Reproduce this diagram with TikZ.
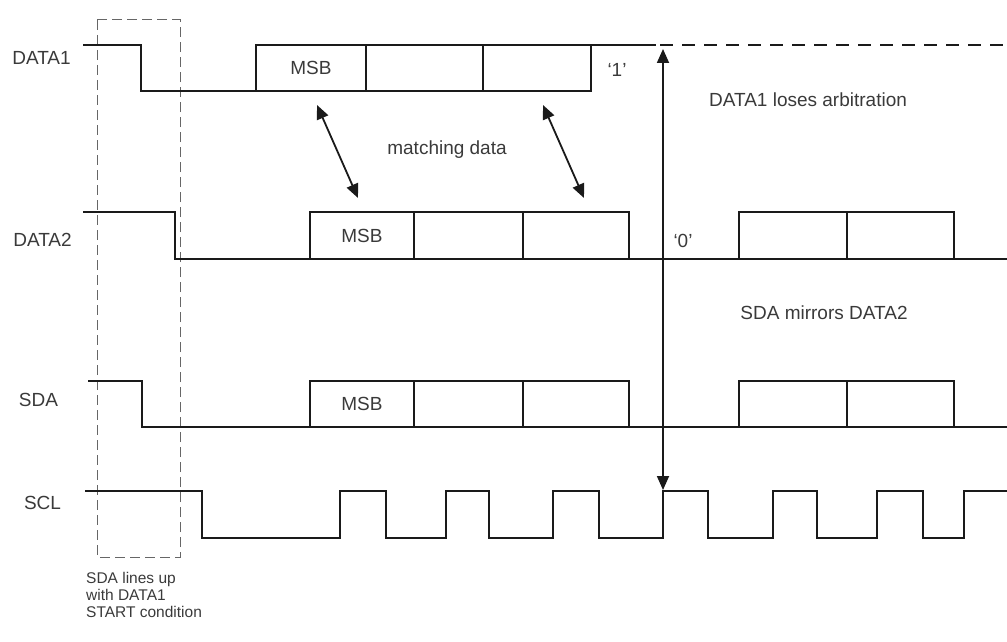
\documentclass[tikz,border=0pt]{standalone}
\usepackage{fontspec}
\setmainfont{Liberation Sans}
\usetikzlibrary{arrows.meta}
\definecolor{ink}{HTML}{1A1A1A}
\definecolor{txt}{HTML}{3A3A3A}
\begin{document}
\begin{tikzpicture}[x=1pt,y=-1pt,
  wave/.style={line width=2.4pt, draw=ink, line join=miter, line cap=rect},
  dotline/.style={line width=2.4pt, draw=ink, dash pattern=on 13pt off 9pt},
  startbox/.style={line width=1pt, draw=black!60, dash pattern=on 10pt off 5pt},
  dblarrow/.style={line width=1.8pt, draw=ink, {Triangle[length=14pt,width=12pt]}-{Triangle[length=14pt,width=12pt]}},
  lbl/.style={font=\fontsize{19}{22}\selectfont, text=txt, inner sep=0pt},
  note/.style={font=\fontsize{15.5}{17}\selectfont, text=txt, inner sep=0pt, align=left}]
\useasboundingbox (0,0) rectangle (1007,642);

% START condition dashed box
\draw[startbox] (97,20) rectangle (180,557);

% DATA1
\draw[wave] (84,45) -- (141,45) -- (141,91) -- (591,91) -- (591,45);
\draw[wave] (256,91) -- (256,45) -- (655,45);
\draw[wave] (366,45) -- (366,91);
\draw[wave] (483,45) -- (483,91);
\draw[dotline] (660,45) -- (1007,45);

% DATA2
\draw[wave] (84,212) -- (175,212) -- (175,259) -- (1007,259);
\draw[wave] (310,259) -- (310,212) -- (629,212) -- (629,259);
\draw[wave] (414,212) -- (414,259);
\draw[wave] (523,212) -- (523,259);
\draw[wave] (739,259) -- (739,212) -- (954,212) -- (954,259);
\draw[wave] (847,212) -- (847,259);

% SDA
\draw[wave] (89,381) -- (142,381) -- (142,427) -- (1007,427);
\draw[wave] (310,427) -- (310,381) -- (629,381) -- (629,427);
\draw[wave] (414,381) -- (414,427);
\draw[wave] (523,381) -- (523,427);
\draw[wave] (739,427) -- (739,381) -- (954,381) -- (954,427);
\draw[wave] (847,381) -- (847,427);

% SCL
\draw[wave] (86,491) -- (202,491) -- (202,538) -- (340,538) -- (340,491) -- (386,491) -- (386,538)
  -- (446,538) -- (446,491) -- (489,491) -- (489,538) -- (553,538) -- (553,491) -- (599,491)
  -- (599,538) -- (663,538) -- (663,491) -- (708,491) -- (708,538) -- (773,538) -- (773,491)
  -- (817,491) -- (817,538) -- (877,538) -- (877,491) -- (923,491) -- (923,538) -- (964,538)
  -- (964,491) -- (1007,491);

% signal labels
\node[lbl] (lData1) at (41.5,58) {DATA1};
\node[lbl] (lData2) at (42.5,240) {DATA2};
\node[lbl] (lSda) at (38.5,400) {SDA};
\node[lbl] (lScl) at (42.5,503) {SCL};

% MSB labels
\node[lbl] (msb1) at (311,68) {MSB};
\node[lbl] (msb2) at (362,236) {MSB};
\node[lbl] (msb3) at (362,404) {MSB};

% bit labels
\node[lbl] (one) at (617,70) {‘1’};
\node[lbl] (zero) at (683,241) {‘0’};

% annotations
\node[lbl] (match) at (447,150) {matching data};
\node[lbl] (loses) at (808,100) {DATA1 loses arbitration};
\node[lbl] (mirror) at (824,313) {SDA mirrors DATA2};
\node[note, anchor=north west] (startnote) at (86,572) {SDA lines up\\with DATA1\\START condition};

% arrows
\coordinate (mA1) at (317,105);
\coordinate (mA2) at (358,198);
\coordinate (mB1) at (543,105);
\coordinate (mB2) at (584,198);
\coordinate (arbTop) at (663,49);
\coordinate (arbBot) at (663,490);
\draw[dblarrow] (mA1) -- (mA2);
\draw[dblarrow] (mB1) -- (mB2);
\draw[dblarrow] (arbTop) -- (arbBot);
\end{tikzpicture}
\end{document}
